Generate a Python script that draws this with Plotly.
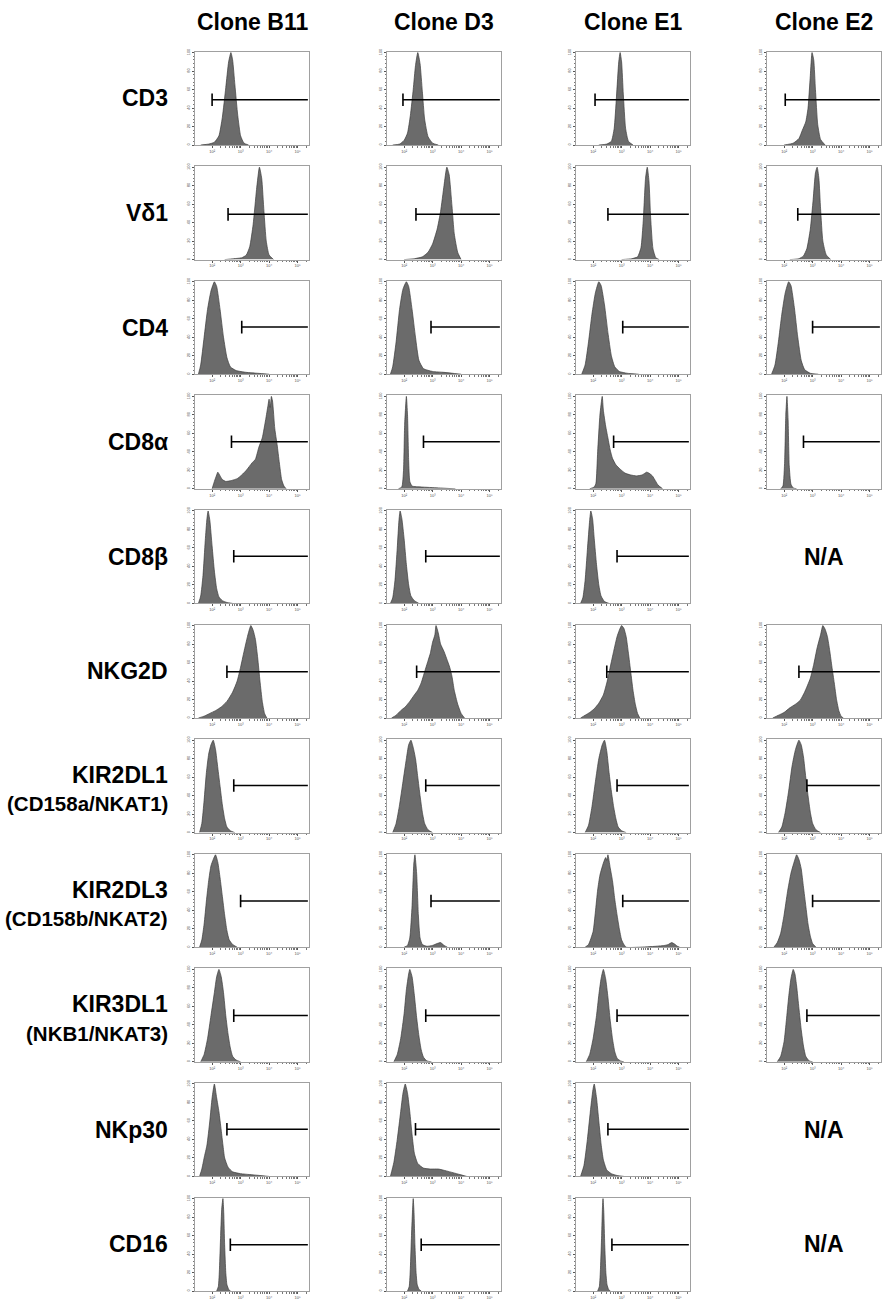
import math
import plotly.graph_objects as go

# ---------------- data ----------------
clones = ["Clone B11", "Clone D3", "Clone E1", "Clone E2"]
markers = ["CD3", "Vδ1", "CD4", "CD8α", "CD8β", "NKG2D",
           "KIR2DL1", "KIR2DL3", "KIR3DL1", "NKp30", "CD16"]
sublabels = ["", "", "", "", "", "",
             "(CD158a/NKAT1)", "(CD158b/NKAT2)", "(NKB1/NKAT3)", "", ""]

# histogram outlines: (channel position 0-100, % of modal count)
CD3_B11 = [(5,0),(12,1),(17,3),(21,10),(24,30),(27,62),(29.5,90),(31.5,100),(33,92),(35,65),(37.5,32),(40,10),(43,2),(47,0)]
CD3_D3 = [(5,0),(11,1),(15,5),(18,13),(20.5,32),(23,60),(25,86),(27,100),(29,88),(31,58),(33,28),(36,9),(40,2),(45,0)]
CD3_E1 = [(20,0),(27,1),(31,4),(33.5,18),(35.5,52),(37.5,90),(38.7,100),(40,90),(41.5,55),(43.5,18),(46,4),(50,0)]
CD3_E2 = [(15,0),(23,2),(28,7),(31,16),(34,25),(36,40),(38,75),(39.5,100),(41,92),(42.5,60),(44.5,22),(47,6),(51,0)]

VD1_B11 = [(26,0),(34,1),(41,2),(45,5),(48,14),(51,38),(54,76),(56.5,100),(58.5,88),(60.5,52),(62.5,20),(65,5),(69,0)]
VD1_D3 = [(15,0),(24,1),(31,3),(36,8),(40,17),(44,33),(47,52),(50,80),(52.5,100),(54.5,92),(57,58),(59,28),(62,8),(65,0)]
VD1_E1 = [(40,0),(49,1),(54,3),(57,13),(59,42),(61,88),(62.5,100),(64,85),(65.5,45),(67.5,12),(70,2),(73,0)]
VD1_E2 = [(20,0),(28,1),(32,4),(35,12),(38,33),(40.5,65),(42.5,94),(44,100),(45.5,88),(47,55),(49,20),(52,5),(56,0)]

CD4_B11 = [(3,0),(5,10),(8,40),(11,70),(14,90),(17,100),(19,95),(22,70),(25,40),(28,18),(31,8),(36,4),(45,2),(55,1),(65,0)]
CD4_D3 = [(3,0),(5,8),(8,35),(11,70),(14,92),(17,100),(19,95),(22,70),(25,40),(28,15),(32,6),(40,3),(50,2),(65,0)]
CD4_E1 = [(5,0),(8,10),(11,35),(14,65),(17,88),(20,100),(22,96),(25,75),(28,45),(31,20),(34,8),(38,3),(45,1),(55,0)]
CD4_E2 = [(4,0),(7,10),(10,35),(13,65),(16,88),(19,100),(21,96),(24,72),(27,40),(30,15),(33,5),(38,1),(45,0)]

CD8A_B11 = [(15,0),(17,8),(19,15),(20,18),(22,14),(24,10),(27,8),(32,9),(37,11),(41,15),(45,20),(50,28),(53,32),(56,45),(59,55),(62,75),(64,90),(65,97),(66,88),(67,100),(68,95),(70,65),(72,48),(74,28),(76,10),(78,3),(80,0)]
CD8A_D3 = [(10,0),(13,2),(14.5,20),(15.5,70),(17,100),(18,80),(19,30),(20,8),(22,3),(30,2),(45,1),(60,0)]
CD8A_E1 = [(12,0),(16,2),(17.5,6),(19,40),(21,80),(23,100),(24,85),(26,68),(28,55),(30,42),(32,33),(35,26),(39,21),(43,17),(48,15),(53,14),(58,15),(62,18),(64,17),(67,14),(70,8),(72,4),(76,0)]
CD8A_E2 = [(12,0),(14,3),(15.5,30),(16.5,80),(17.5,100),(18.5,75),(19.5,25),(21,5),(23,1),(26,0)]

CD8B_B11 = [(3,0),(5,8),(7,30),(9,68),(10.5,92),(11.5,100),(13,90),(15,62),(17,35),(19,16),(21,7),(24,3),(28,1),(33,0)]
CD8B_D3 = [(3,0),(5,6),(7,25),(9,60),(10.5,90),(11.5,100),(13,92),(15,70),(17,42),(19,20),(21,8),(24,3),(28,0)]
CD8B_E1 = [(4,0),(6,6),(8,25),(10,58),(12,90),(13,100),(14.5,92),(16,70),(18,42),(20,20),(22,8),(25,2),(29,0)]

NKG2D_B11 = [(3,0),(8,2),(13,5),(18,8),(23,12),(28,18),(33,28),(37,40),(40,55),(43,72),(46,88),(48,97),(49,100),(51,95),(53,85),(55,65),(57,40),(59,18),(61,5),(63,0)]
NKG2D_D3 = [(4,0),(8,3),(12,8),(16,12),(20,18),(24,25),(27,30),(30,38),(33,50),(36,62),(38,70),(40,82),(42,90),(43,100),(45,92),(47,80),(50,72),(53,62),(55,55),(57,45),(59,30),(62,15),(65,5),(68,0)]
NKG2D_E1 = [(4,0),(8,3),(12,6),(16,10),(20,16),(24,25),(27,38),(30,55),(33,72),(36,88),(38,95),(40,100),(42,97),(44,88),(46,70),(48,50),(50,30),(52,15),(54,5),(56,0)]
NKG2D_E2 = [(5,0),(10,3),(15,6),(20,11),(25,15),(29,19),(33,28),(38,43),(41,58),(44,76),(47,90),(49,100),(51,96),(53,88),(55,73),(57,55),(59,38),(61,20),(63,8),(65,2),(67,0)]

KIR2DL1_B11 = [(4,0),(6,10),(8,35),(10,65),(12,85),(14,95),(16,100),(18,90),(20,70),(22,50),(24,30),(26,15),(28,6),(31,2),(35,0)]
KIR2DL1_D3 = [(5,0),(8,10),(11,30),(14,55),(17,80),(19,95),(21,100),(23,92),(25,80),(27,60),(29,40),(31,22),(33,10),(36,3),(40,0)]
KIR2DL1_E1 = [(8,0),(11,8),(14,28),(17,55),(20,80),(23,95),(25,100),(27,88),(29,65),(31,45),(33,28),(35,15),(37,6),(40,2),(44,0)]
KIR2DL1_E2 = [(10,0),(13,6),(16,22),(19,45),(22,72),(25,90),(28,100),(30,95),(32,82),(34,60),(36,40),(38,22),(40,10),(43,3),(47,0)]

KIR2DL3_B11 = [(4,0),(6,8),(8,25),(10,50),(12,72),(14,88),(16,95),(18,100),(20,92),(22,75),(24,55),(26,35),(28,18),(30,8),(33,3),(37,0)]
KIR2DL3_D3 = [(15,0),(18,2),(20,10),(22,45),(23.5,90),(24.5,100),(26,80),(27.5,35),(29,10),(31,3),(35,1),(40,2),(44,4),(47,5),(50,2),(53,0)]
KIR2DL3_E1 = [(8,0),(11,3),(15,17),(17,38),(19,62),(21,78),(24,91),(26,97),(27,94),(28,100),(30,86),(32,72),(34,52),(36,35),(38,20),(40,8),(42,3),(44,0),(55,0),(70,1),(78,2),(81,3),(84,5),(87,3),(89,1),(91,0)]
KIR2DL3_E2 = [(6,0),(9,5),(12,15),(15,35),(18,60),(21,80),(24,93),(26,100),(28,95),(30,85),(32,65),(34,45),(36,25),(38,12),(40,4),(43,0)]

KIR3DL1_B11 = [(5,0),(8,8),(11,25),(14,50),(17,75),(19,92),(21,100),(23,92),(25,75),(27,50),(29,30),(31,15),(33,6),(36,2),(40,0)]
KIR3DL1_D3 = [(6,0),(9,8),(12,25),(15,52),(17,78),(19,95),(20,100),(22,92),(24,72),(26,48),(28,28),(30,13),(32,5),(35,1),(39,0)]
KIR3DL1_E1 = [(9,0),(12,8),(15,25),(18,50),(20,72),(22,90),(24,100),(26,90),(28,70),(30,45),(32,25),(34,11),(36,4),(39,1),(42,0)]
KIR3DL1_E2 = [(9,0),(12,6),(15,22),(17,45),(19,70),(21,90),(23,100),(24.5,95),(26,82),(28,58),(30,35),(32,17),(34,6),(37,1),(40,0)]

NKP30_B11 = [(4,0),(6,8),(8,20),(10.5,34),(13,60),(15,85),(17,100),(19,85),(21,70),(23,50),(24.5,34),(26,20),(29,10),(33,5),(40,3),(48,2),(57,1),(65,0)]
NKP30_D3 = [(3,0),(6,15),(9,40),(12,70),(14,90),(16,100),(18,90),(20,70),(22,45),(24,25),(27,14),(32,9),(38,8),(45,8),(52,6),(58,4),(64,2),(70,0)]
NKP30_E1 = [(4,0),(7,12),(10,40),(13,75),(15,95),(16,100),(18,85),(20,60),(22,35),(24,18),(27,7),(31,3),(36,1),(42,0)]

CD16_B11 = [(19,0),(20.5,5),(21.5,25),(22.5,60),(23.5,90),(24.5,100),(25.2,85),(26,50),(27,20),(28,7),(29.5,2),(31,0)]
CD16_D3 = [(18,0),(19.5,5),(20.5,25),(21.5,60),(22.5,90),(23,100),(23.7,85),(24.5,50),(25.5,20),(26.5,7),(28,2),(30,0)]
CD16_E1 = [(19,0),(20.5,5),(21.5,25),(22.5,60),(23.2,90),(23.7,100),(24.4,85),(25.2,50),(26.2,20),(27.2,7),(28.5,2),(30,0)]

hist_rows = [
    [CD3_B11, CD3_D3, CD3_E1, CD3_E2],
    [VD1_B11, VD1_D3, VD1_E1, VD1_E2],
    [CD4_B11, CD4_D3, CD4_E1, CD4_E2],
    [CD8A_B11, CD8A_D3, CD8A_E1, CD8A_E2],
    [CD8B_B11, CD8B_D3, CD8B_E1, None],
    [NKG2D_B11, NKG2D_D3, NKG2D_E1, NKG2D_E2],
    [KIR2DL1_B11, KIR2DL1_D3, KIR2DL1_E1, KIR2DL1_E2],
    [KIR2DL3_B11, KIR2DL3_D3, KIR2DL3_E1, KIR2DL3_E2],
    [KIR3DL1_B11, KIR3DL1_D3, KIR3DL1_E1, KIR3DL1_E2],
    [NKP30_B11, NKP30_D3, NKP30_E1, None],
    [CD16_B11, CD16_D3, CD16_E1, None],
]

# positive gate: start channel per clone, per marker
gate_CD3 = [15, 14, 16.7, 16]
gate_VD1 = [29, 25.4, 28, 27]
gate_CD4 = [41, 38.6, 41, 40]
gate_CD8A = [32, 32, 33, 32]
gate_CD8B = [34, 34, 36, None]
gate_NKG2D = [28, 26, 27, 28]
gate_KIR2DL1 = [34, 34, 36, 35]
gate_KIR2DL3 = [40, 38.6, 41, 40]
gate_KIR3DL1 = [34, 34, 36, 35]
gate_NKP30 = [28, 25, 28, None]
gate_CD16 = [31, 30, 31.5, None]
gate_rows = [gate_CD3, gate_VD1, gate_CD4, gate_CD8A, gate_CD8B, gate_NKG2D,
             gate_KIR2DL1, gate_KIR2DL3, gate_KIR3DL1, gate_NKP30, gate_CD16]
gate_level = [49, 49, 51, 51, 51, 50, 51, 50, 50, 51, 50]
gate_end = 99

x_major_vals = [15, 40, 65, 90]
x_major_text = ["10²", "10³", "10⁴", "10⁵"]

# ---------------- layout geometry (pixels) ----------------
W, H = 885, 1300
col_left = [195, 387, 576, 767]
box_w = 114
row_top0, row_pitch, box_h = 48, 115.4, 94
FONT = "Arial, Liberation Sans, sans-serif"

fig = go.Figure()
annotations = []

minor_x = []
for m in x_major_vals:
    for k in range(2, 10):
        v = m + 25 * math.log10(k)
        if v < 100:
            minor_x.append(v)

ax_i = 0
for r, marker in enumerate(markers):
    top = row_top0 + r * row_pitch
    cy = top + box_h / 2
    # row label
    if sublabels[r]:
        annotations.append(dict(text="<b>%s</b>" % marker, x=170 / W, y=1 - (cy - 11) / H,
                                xref="paper", yref="paper", xanchor="right", yanchor="middle",
                                showarrow=False, font=dict(family=FONT, size=23, color="black")))
        annotations.append(dict(text="<b>%s</b>" % sublabels[r], x=170 / W, y=1 - (cy + 18) / H,
                                xref="paper", yref="paper", xanchor="right", yanchor="middle",
                                showarrow=False, font=dict(family=FONT, size=20.5, color="black")))
    else:
        annotations.append(dict(text="<b>%s</b>" % marker, x=170 / W, y=1 - cy / H,
                                xref="paper", yref="paper", xanchor="right", yanchor="middle",
                                showarrow=False, font=dict(family=FONT, size=23, color="black")))
    for c in range(4):
        left = col_left[c]
        hist = hist_rows[r][c]
        if hist is None:
            annotations.append(dict(text="<b>N/A</b>", x=(left + box_w / 2) / W, y=1 - cy / H,
                                    xref="paper", yref="paper", xanchor="center", yanchor="middle",
                                    showarrow=False, font=dict(family=FONT, size=23, color="black")))
            continue
        ax_i += 1
        xa = "x" if ax_i == 1 else "x%d" % ax_i
        ya = "y" if ax_i == 1 else "y%d" % ax_i
        xs = [p[0] for p in hist]
        ys = [p[1] for p in hist]
        fig.add_trace(go.Scatter(x=xs, y=ys, mode="lines", fill="tozeroy",
                                 fillcolor="#6b6b6b",
                                 line=dict(color="#3c3c3c", width=0.7, shape="spline", smoothing=0.5),
                                 xaxis=xa, yaxis=ya, showlegend=False, hoverinfo="skip"))
        g = gate_rows[r][c]
        lvl = gate_level[r]
        fig.add_trace(go.Scatter(x=[g, gate_end], y=[lvl, lvl], mode="lines",
                                 line=dict(color="black", width=1.5),
                                 xaxis=xa, yaxis=ya, showlegend=False, hoverinfo="skip"))
        fig.add_trace(go.Scatter(x=[g], y=[lvl], mode="markers",
                                 marker=dict(symbol="line-ns-open", size=9, color="black",
                                             line=dict(color="black", width=1.6)),
                                 xaxis=xa, yaxis=ya, showlegend=False, hoverinfo="skip"))
        key = "" if ax_i == 1 else str(ax_i)
        fig.layout["xaxis" + key] = dict(
            domain=[left / W, (left + box_w) / W], anchor=ya, range=[0, 100],
            showgrid=False, zeroline=False, showline=True, mirror=True,
            linecolor="#a0a0a0", linewidth=1,
            ticks="outside", ticklen=2, tickwidth=0.6, tickcolor="#555",
            tickmode="array", tickvals=x_major_vals, ticktext=x_major_text,
            tickfont=dict(size=4, color="#555", family=FONT),
            minor=dict(tickmode="array", tickvals=minor_x, ticks="outside",
                       ticklen=1.5, tickcolor="#777", tickwidth=0.5),
            fixedrange=True)
        fig.layout["yaxis" + key] = dict(
            domain=[1 - (top + box_h) / H, 1 - top / H], anchor=xa, range=[0, 101],
            showgrid=False, zeroline=False, showline=True, mirror=True,
            linecolor="#a0a0a0", linewidth=1,
            ticks="outside", ticklen=2, tickwidth=0.6, tickcolor="#555",
            tickmode="array", tickvals=[0, 20, 40, 60, 80, 100],
            tickfont=dict(size=4, color="#555", family=FONT), tickangle=-90,
            minor=dict(dtick=4, ticks="outside", ticklen=1.5, tickcolor="#777", tickwidth=0.5),
            fixedrange=True)

for c, name in enumerate(clones):
    annotations.append(dict(text="<b>%s</b>" % name, x=(col_left[c] + box_w / 2) / W, y=1 - 18 / H,
                            xref="paper", yref="paper", xanchor="center", yanchor="middle",
                            showarrow=False, font=dict(family=FONT, size=23, color="black")))

fig.update_layout(width=W, height=H, margin=dict(l=0, r=0, t=0, b=0),
                  plot_bgcolor="white", paper_bgcolor="white",
                  annotations=annotations, showlegend=False)

fig.write_html("out.html")
